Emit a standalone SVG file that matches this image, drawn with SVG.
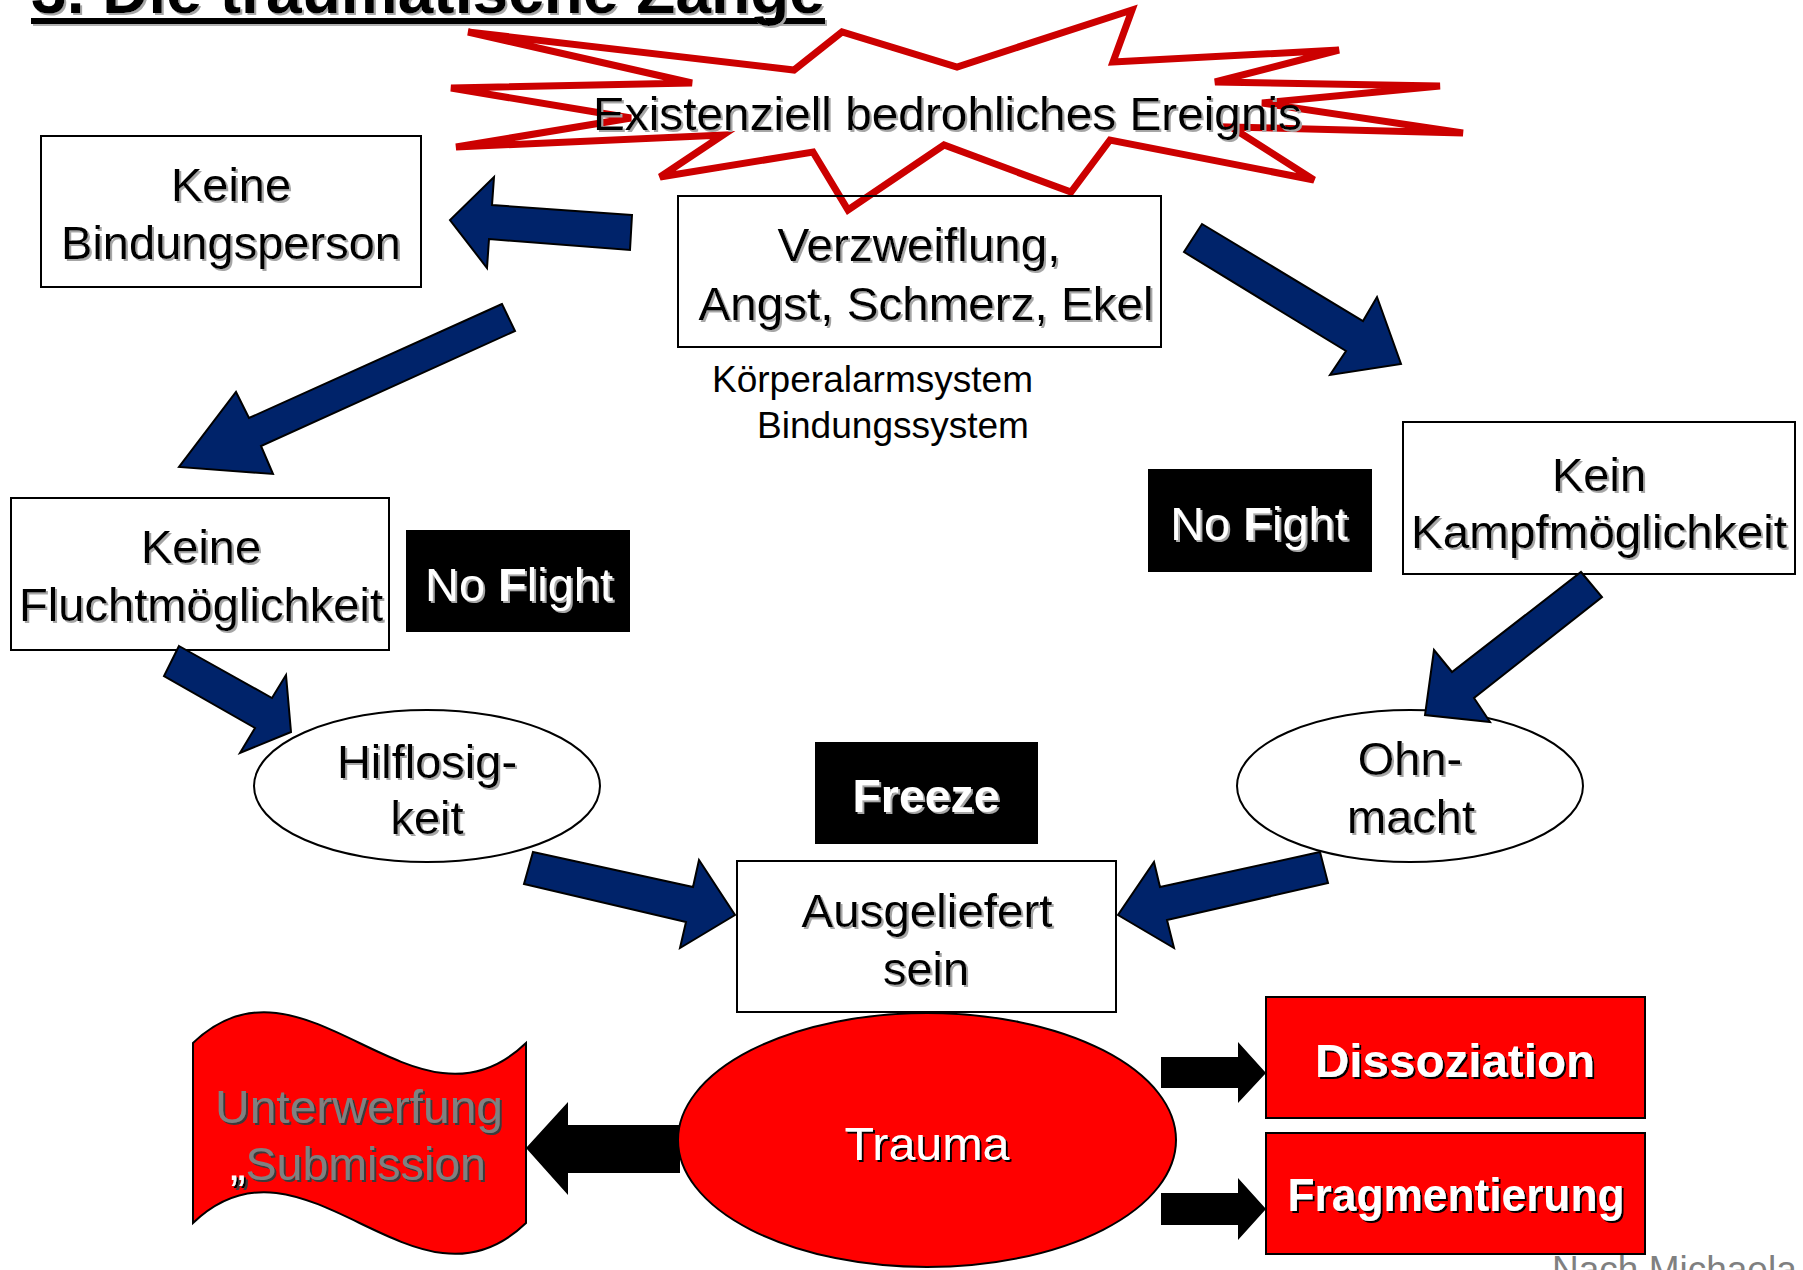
<svg xmlns="http://www.w3.org/2000/svg" width="1803" height="1270" viewBox="0 0 1803 1270">
<defs>
<style>
text{font-family:"Liberation Sans",Arial,sans-serif;}
.t{font-size:47px;fill:#000;text-anchor:middle;filter:url(#shG);}
.s{font-size:37px;fill:#000;}
.w{font-size:47px;fill:#fff;text-anchor:middle;filter:url(#shG);}
.wb{font-size:47px;fill:#fff;text-anchor:middle;font-weight:bold;filter:url(#shK);}
.box{fill:#fff;stroke:#000;stroke-width:2;}
.blk{fill:#000;}
.ell{fill:#fff;stroke:#000;stroke-width:2;}
.blue{fill:#00236A;stroke:#000;stroke-width:2;stroke-linejoin:miter;}
.barr{fill:#000;}
.red{fill:#FF0000;stroke:#000;stroke-width:2;}
</style>
<filter id="shG" x="-10%" y="-30%" width="120%" height="160%"><feDropShadow dx="2" dy="2" stdDeviation="0" flood-color="#a6a6a6" flood-opacity="1"/></filter>
<filter id="shK" x="-10%" y="-30%" width="120%" height="160%"><feDropShadow dx="2" dy="2" stdDeviation="0" flood-color="#000" flood-opacity="1"/></filter>
<filter id="shD" x="-10%" y="-30%" width="120%" height="160%"><feDropShadow dx="2" dy="2" stdDeviation="0" flood-color="#3a3a3a" flood-opacity="1"/></filter>
</defs>
<rect width="1803" height="1270" fill="#fff"/>

<g id="title">
<rect x="33" y="20" width="794" height="6" fill="#b0b0b0"/>
<rect x="31" y="18" width="794" height="6" fill="#000"/>
<text x="31" y="13" font-size="64" font-weight="bold" textLength="794" lengthAdjust="spacingAndGlyphs" filter="url(#shG)">3. Die traumatische Zange</text>
</g>

<g id="ereignis">
<polygon points="1132,10 1113,62 1339,50 1215,82 1440,86 1262,103 1463,133 1231,127 1314,180 1110,140 1071,192 944,145 848,210 813,152 660,177 723,135 456,147 631,118 451,88 692,83 468,32 794,70 842,32 957,67" fill="#fff" stroke="#CC0000" stroke-width="7" stroke-linejoin="miter"/>
<text x="593" y="130" font-size="47" textLength="709" lengthAdjust="spacingAndGlyphs" filter="url(#shG)">Existenziell bedrohliches Ereignis</text>
</g>

<g id="gefuehle">
<rect x="678" y="196" width="483" height="151" fill="none" stroke="#000" stroke-width="2"/>
<text class="t" x="919" y="261" textLength="283" lengthAdjust="spacingAndGlyphs">Verzweiflung,</text>
<text class="t" x="926" y="320" textLength="455" lengthAdjust="spacingAndGlyphs">Angst, Schmerz, Ekel</text>
</g>

<g id="systeme">
<text class="s" x="712" y="392" textLength="321" lengthAdjust="spacingAndGlyphs">Körperalarmsystem</text>
<text class="s" x="757" y="438" textLength="272" lengthAdjust="spacingAndGlyphs">Bindungssystem</text>
</g>

<g id="bindungsperson">
<rect class="box" x="41" y="136" width="380" height="151"/>
<text class="t" x="231" y="201">Keine</text>
<text class="t" x="231" y="259" textLength="340" lengthAdjust="spacingAndGlyphs">Bindungsperson</text>
</g>

<g id="flucht">
<rect class="box" x="11" y="498" width="378" height="152"/>
<text class="t" x="201" y="563">Keine</text>
<text class="t" x="201" y="621" textLength="364" lengthAdjust="spacingAndGlyphs">Fluchtmöglichkeit</text>
</g>

<g id="noflight">
<rect class="blk" x="406" y="530" width="224" height="102"/>
<text class="w" x="519" y="601">No <tspan font-weight="bold">F</tspan>light</text>
</g>

<g id="nofight">
<rect class="blk" x="1148" y="469" width="224" height="103"/>
<text class="w" x="1259" y="540">No <tspan font-weight="bold">F</tspan>ight</text>
</g>

<g id="kampf">
<rect class="box" x="1403" y="422" width="392" height="152"/>
<text class="t" x="1599" y="491">Kein</text>
<text class="t" x="1599" y="548" textLength="376" lengthAdjust="spacingAndGlyphs">Kampfmöglichkeit</text>
</g>

<g id="hilflosigkeit">
<ellipse class="ell" cx="427" cy="786" rx="173" ry="76"/>
<text class="t" x="427" y="778">Hilflosig-</text>
<text class="t" x="427" y="834">keit</text>
</g>

<g id="ohnmacht">
<ellipse class="ell" cx="1410" cy="786" rx="173" ry="76"/>
<text class="t" x="1410" y="775">Ohn-</text>
<text class="t" x="1411" y="833">macht</text>
</g>

<g id="freeze">
<rect class="blk" x="815" y="742" width="223" height="102"/>
<text class="w" x="926" y="812" font-weight="bold" textLength="147" lengthAdjust="spacingAndGlyphs">Freeze</text>
</g>

<g id="ausgeliefert">
<rect class="box" x="737" y="861" width="379" height="151"/>
<text class="t" x="927" y="927" textLength="251" lengthAdjust="spacingAndGlyphs">Ausgeliefert</text>
<text class="t" x="926" y="985">sein</text>
</g>

<g id="connectors">
<polygon class="blue" points="632,215 492,205 494,177 450,220 487,268 489,239 630,250"/>
<polygon class="blue" points="502,304 249,418 236,392 179,467 273,474 261,446 515,331"/>
<polygon class="blue" points="1202,224 1363,321 1377,297 1401,364 1330,375 1346,351 1184,252"/>
<polygon class="blue" points="179,646 272,698 286,675 291,732 240,753 255,728 164,676"/>
<polygon class="blue" points="1581,572 1602,597 1474,698 1490,722 1425,715 1434,650 1452,672"/>
<polygon class="blue" points="533,852 693,887 699,860 735,915 680,948 686,922 524,884"/>
<polygon class="blue" points="1320,852 1328,883 1167,920 1174,948 1118,915 1154,862 1160,887"/>
<polygon class="barr" points="680,1125 568,1125 568,1102 526,1148 568,1195 568,1173 680,1173"/>
<polygon class="barr" points="1161,1057 1238,1057 1238,1042 1266,1073 1238,1103 1238,1088 1161,1088"/>
<polygon class="barr" points="1161,1193 1238,1193 1238,1178 1266,1209 1238,1240 1238,1225 1161,1225"/>
</g>

<g id="trauma">
<ellipse class="red" cx="927" cy="1140" rx="249" ry="127"/>
<text x="927" y="1160" font-size="47" fill="#fff" text-anchor="middle" filter="url(#shK)" textLength="165" lengthAdjust="spacingAndGlyphs">Trauma</text>
</g>

<g id="unterwerfung">
<path class="red" d="M193,1043 C304,936 415,1150 526,1043 L526,1223 C415,1330 304,1116 193,1223 Z"/>
<text x="359" y="1123" font-size="47" fill="#808080" text-anchor="middle" filter="url(#shD)" textLength="288" lengthAdjust="spacingAndGlyphs">Unterwerfung</text>
<text x="230" y="1180" font-size="47" fill="#808080" filter="url(#shD)" textLength="256" lengthAdjust="spacingAndGlyphs"><tspan fill="#fff" filter="url(#shK)">„</tspan>Submission</text>
</g>

<g id="dissoziation">
<rect class="red" x="1266" y="997" width="379" height="121"/>
<text class="wb" x="1455" y="1077" textLength="280" lengthAdjust="spacingAndGlyphs">Dissoziation</text>
</g>

<g id="fragmentierung">
<rect class="red" x="1266" y="1133" width="379" height="121"/>
<text class="wb" x="1456" y="1211" textLength="337" lengthAdjust="spacingAndGlyphs">Fragmentierung</text>
</g>

<g id="quelle">
<text x="1552" y="1282" font-size="37" fill="#808080">Nach Michaela</text>
</g>
</svg>
